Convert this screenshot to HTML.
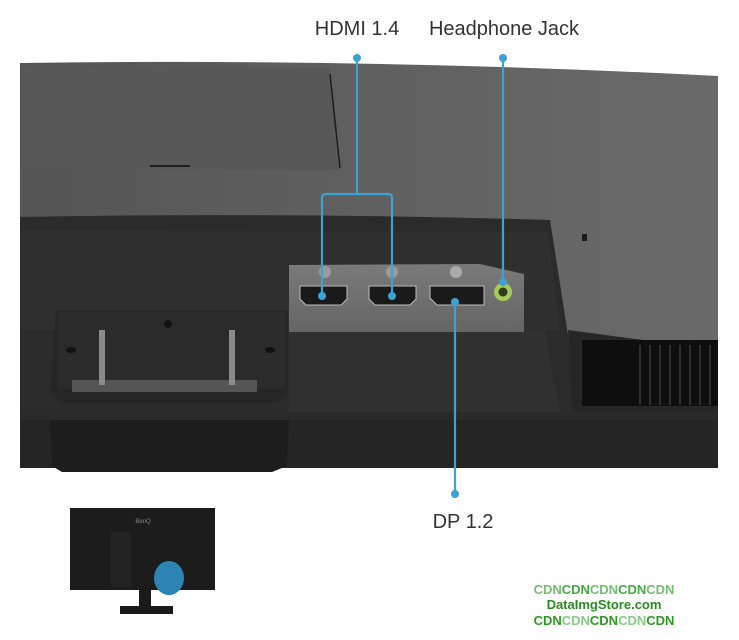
<!DOCTYPE html>
<html><head><meta charset="utf-8"><style>
html,body{margin:0;padding:0;background:#fff;}
svg{display:block}
text{font-family:"Liberation Sans",sans-serif}
</style></head><body>
<svg width="739" height="640" viewBox="0 0 739 640" xmlns="http://www.w3.org/2000/svg">
<defs>
<linearGradient id="up" x1="0" y1="0" x2="1" y2="0">
<stop offset="0" stop-color="#555"/><stop offset="0.5" stop-color="#606060"/><stop offset="1" stop-color="#6a6a6a"/>
</linearGradient>
<linearGradient id="io" x1="0" y1="0" x2="0" y2="1">
<stop offset="0" stop-color="#7a7a7a"/><stop offset="1" stop-color="#656565"/>
</linearGradient>
</defs>
<path d="M20 63 Q370 58 718 76 L718 412 L20 412 Z" fill="url(#up)"/>
<path d="M22 66 L330 68 L340 170 L22 168 Z" fill="#585858"/>
<line x1="330" y1="74" x2="340" y2="168" stroke="#1e1e1e" stroke-width="1.5"/>
<line x1="150" y1="166" x2="190" y2="166" stroke="#1e1e1e" stroke-width="2"/>
<rect x="582" y="234" width="5" height="7" fill="#1a1a1a"/>
<path d="M20 217 Q290 212 550 220 L568 335 L575 412 L20 412 Z" fill="#2b2b2b"/>
<path d="M20 230 L548 232 L560 330 L20 330 Z" fill="#2f2f2f"/>
<path d="M568 330 L718 350 L718 412 L572 412 Z" fill="#262626"/>
<rect x="582" y="340" width="136" height="66" fill="#0e0e0e"/>
<g stroke="#2e2e2e" stroke-width="2">
<line x1="640" y1="345" x2="640" y2="405"/><line x1="650" y1="345" x2="650" y2="405"/><line x1="660" y1="345" x2="660" y2="405"/><line x1="670" y1="345" x2="670" y2="405"/><line x1="680" y1="345" x2="680" y2="405"/><line x1="690" y1="345" x2="690" y2="405"/><line x1="700" y1="345" x2="700" y2="405"/><line x1="710" y1="345" x2="710" y2="405"/>
</g>
<path d="M289 330 L545 330 L560 412 L289 412 Z" fill="#303030"/>
<path d="M289 265 L480 264 L524 274 L524 332 L289 332 Z" fill="url(#io)"/>
<g fill="#1a1a1a" stroke="#bbb" stroke-width="1">
<path d="M300 286 H347 V299 L341 305 H306 L300 299 Z"/>
<path d="M369 286 H416 V299 L410 305 H375 L369 299 Z"/>
<path d="M430 286 H484 V305 H437 L430 298 Z"/>
</g>
<circle cx="325" cy="272" r="6" fill="#9a9a9a"/><circle cx="392" cy="272" r="6" fill="#9a9a9a"/><circle cx="456" cy="272" r="6" fill="#aaa"/>
<circle cx="503" cy="292" r="9" fill="#a7c85a"/><circle cx="503" cy="292" r="4.5" fill="#2f3a20"/>
<rect x="20" y="412" width="698" height="8" fill="#2a2a2a"/>
<rect x="20" y="420" width="698" height="48" fill="#252525"/>
<path d="M50 420 L289 420 L287 466 L272 472 L62 472 L52 466 Z" fill="#1d1d1d"/>
<path d="M56 310 L288 310 L288 392 L278 403 L60 403 L50 392 Z" fill="#262626"/>
<path d="M58 312 L285 312 L285 389 L58 389 Z" fill="#2b2b2b"/>
<rect x="72" y="380" width="185" height="12" fill="#555"/>
<rect x="99" y="330" width="6" height="55" fill="#8a8a8a"/>
<rect x="229" y="330" width="6" height="55" fill="#8a8a8a"/>
<circle cx="168" cy="324" r="4" fill="#111"/>
<ellipse cx="71" cy="350" rx="5" ry="3" fill="#111"/><ellipse cx="270" cy="350" rx="5" ry="3" fill="#111"/>
<g stroke="#3ba3d3" stroke-width="2.2" fill="none">
<path d="M357 58 V194"/>
<path d="M322 296 V198 Q322 194 326 194 H388 Q392 194 392 198 V296"/>
<path d="M503 58 V282"/>
<path d="M455 302 V494"/>
</g>
<g fill="#3ba3d3">
<circle cx="357" cy="58" r="4"/><circle cx="322" cy="296" r="4"/><circle cx="392" cy="296" r="4"/>
<circle cx="503" cy="58" r="4"/><circle cx="503" cy="282" r="4"/>
<circle cx="455" cy="302" r="4"/><circle cx="455" cy="494" r="4"/>
</g>
<text x="357" y="35" font-size="20" fill="#333" text-anchor="middle">HDMI 1.4</text>
<text x="504" y="35" font-size="20" fill="#333" text-anchor="middle">Headphone Jack</text>
<text x="463" y="528" font-size="20" fill="#333" text-anchor="middle">DP 1.2</text>
<rect x="70" y="508" width="145" height="82" fill="#1c1c1c"/>
<rect x="111" y="532" width="20" height="55" fill="#242424"/>
<text x="143" y="523" font-size="6" fill="#888" text-anchor="middle">BenQ</text>
<rect x="139" y="588" width="12" height="20" fill="#1a1a1a"/>
<rect x="120" y="606" width="53" height="8" fill="#1a1a1a"/>
<ellipse cx="169" cy="578" rx="15" ry="17" fill="#2b84b4"/>
<g font-size="13" font-weight="bold" text-anchor="middle">
<text x="604" y="594" fill="#77bb77">CDN<tspan fill="#44aa44">CDN</tspan>CDN<tspan fill="#44aa44">CDN</tspan>CDN</text>
<text x="604" y="609" fill="#2b8a22">DataImgStore.com</text>
<text x="604" y="625" fill="#2b9a22">CDN<tspan fill="#88cc88">CDN</tspan>CDN<tspan fill="#88cc88">CDN</tspan>CDN</text>
</g>
</svg>
</body></html>
